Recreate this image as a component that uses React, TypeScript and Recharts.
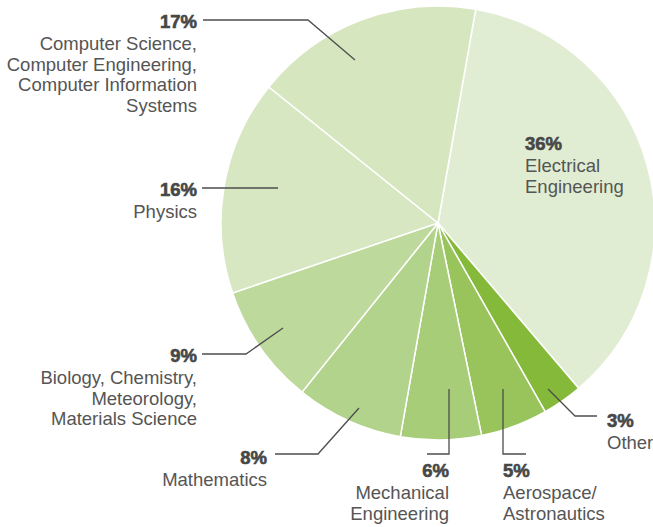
import React from "react";
import { PieChart, Pie, Cell } from "recharts";

const categories = [
  "Electrical Engineering",
  "Other",
  "Aerospace/Astronautics",
  "Mechanical Engineering",
  "Mathematics",
  "Biology, Chemistry, Meteorology, Materials Science",
  "Physics",
  "Computer Science, Computer Engineering, Computer Information Systems",
];
const shares = [36, 3, 5, 6, 8, 9, 16, 17];
const percentLabels = ["36%", "3%", "5%", "6%", "8%", "9%", "16%", "17%"];
const labelLines: string[][] = [
  ["Electrical", "Engineering"],
  ["Other"],
  ["Aerospace/", "Astronautics"],
  ["Mechanical", "Engineering"],
  ["Mathematics"],
  ["Biology, Chemistry,", "Meteorology,", "Materials Science"],
  ["Physics"],
  ["Computer Science,", "Computer Engineering,", "Computer Information", "Systems"],
];
const colors = ["#e1edd2", "#84b93a", "#98c45b", "#a8cd78", "#b2d38b", "#bdd99c", "#d7e7c2", "#d6e6bf"];

// label layout, offsets relative to the pie centre
type Layout = { path: number[][]; tx: number; ty: number; anchor: "start" | "end" };
const labelLayout: Layout[] = [
  { path: [], tx: 87, ty: -73, anchor: "start" },
  { path: [[110, 166], [137, 193], [159, 193]], tx: 169, ty: 204, anchor: "start" },
  { path: [[65, 166], [65, 231], [88, 231]], tx: 65, ty: 254, anchor: "start" },
  { path: [[11, 166], [11, 231], [-11, 231]], tx: 11, ty: 254, anchor: "end" },
  { path: [[-79, 185], [-120, 231], [-163, 231]], tx: -171, ty: 241, anchor: "end" },
  { path: [[-155, 105], [-192, 131], [-236, 131]], tx: -241, ty: 139, anchor: "end" },
  { path: [[-160, -35], [-236, -35]], tx: -241, ty: -27, anchor: "end" },
  { path: [[-83, -163], [-130, -203], [-235, -203]], tx: -241, ty: -195, anchor: "end" },
];

const data = categories.map((name, i) => ({ name, value: shares[i] }));

const FONT = "'Liberation Sans', Arial, Helvetica, sans-serif";

const renderLabel = (props: any) => {
  const { cx, cy, index } = props;
  const L = labelLayout[index];
  const d = L.path.length
    ? L.path.map((p, k) => `${k === 0 ? "M" : "L"}${cx + p[0]},${cy + p[1]}`).join(" ")
    : "";
  return (
    <g key={`lbl-${index}`}>
      {d && <path d={d} fill="none" stroke="#4d4d4d" strokeWidth={1.3} />}
      <text
        x={cx + L.tx}
        y={cy + L.ty}
        textAnchor={L.anchor}
        fontFamily={FONT}
        fontWeight="bold"
        fontSize={18.5}
        fill="#474747"
        stroke="#474747"
        strokeWidth={0.6}
      >
        {percentLabels[index]}
      </text>
      {labelLines[index].map((line, k) => (
        <text
          key={k}
          x={cx + L.tx}
          y={cy + L.ty + 22 + k * 20.6}
          textAnchor={L.anchor}
          fontFamily={FONT}
          fontSize={18.5}
          fill="#555555"
        >
          {line}
        </text>
      ))}
    </g>
  );
};

export default function App() {
  return (
    <div style={{ position: "absolute", left: 0, top: 0, width: 653, height: 527, background: "#fff" }}>
      <PieChart width={653} height={527} margin={{ top: 0, right: 0, bottom: 0, left: 0 }}>
        <Pie
          data={data}
          dataKey="value"
          nameKey="name"
          cx={438}
          cy={223}
          innerRadius={0}
          outerRadius={217}
          startAngle={80}
          endAngle={-280}
          stroke="#ffffff"
          strokeWidth={1.5}
          label={renderLabel}
          labelLine={false}
          isAnimationActive={false}
        >
          {data.map((_, i) => (
            <Cell key={i} fill={colors[i]} />
          ))}
        </Pie>
      </PieChart>
    </div>
  );
}
